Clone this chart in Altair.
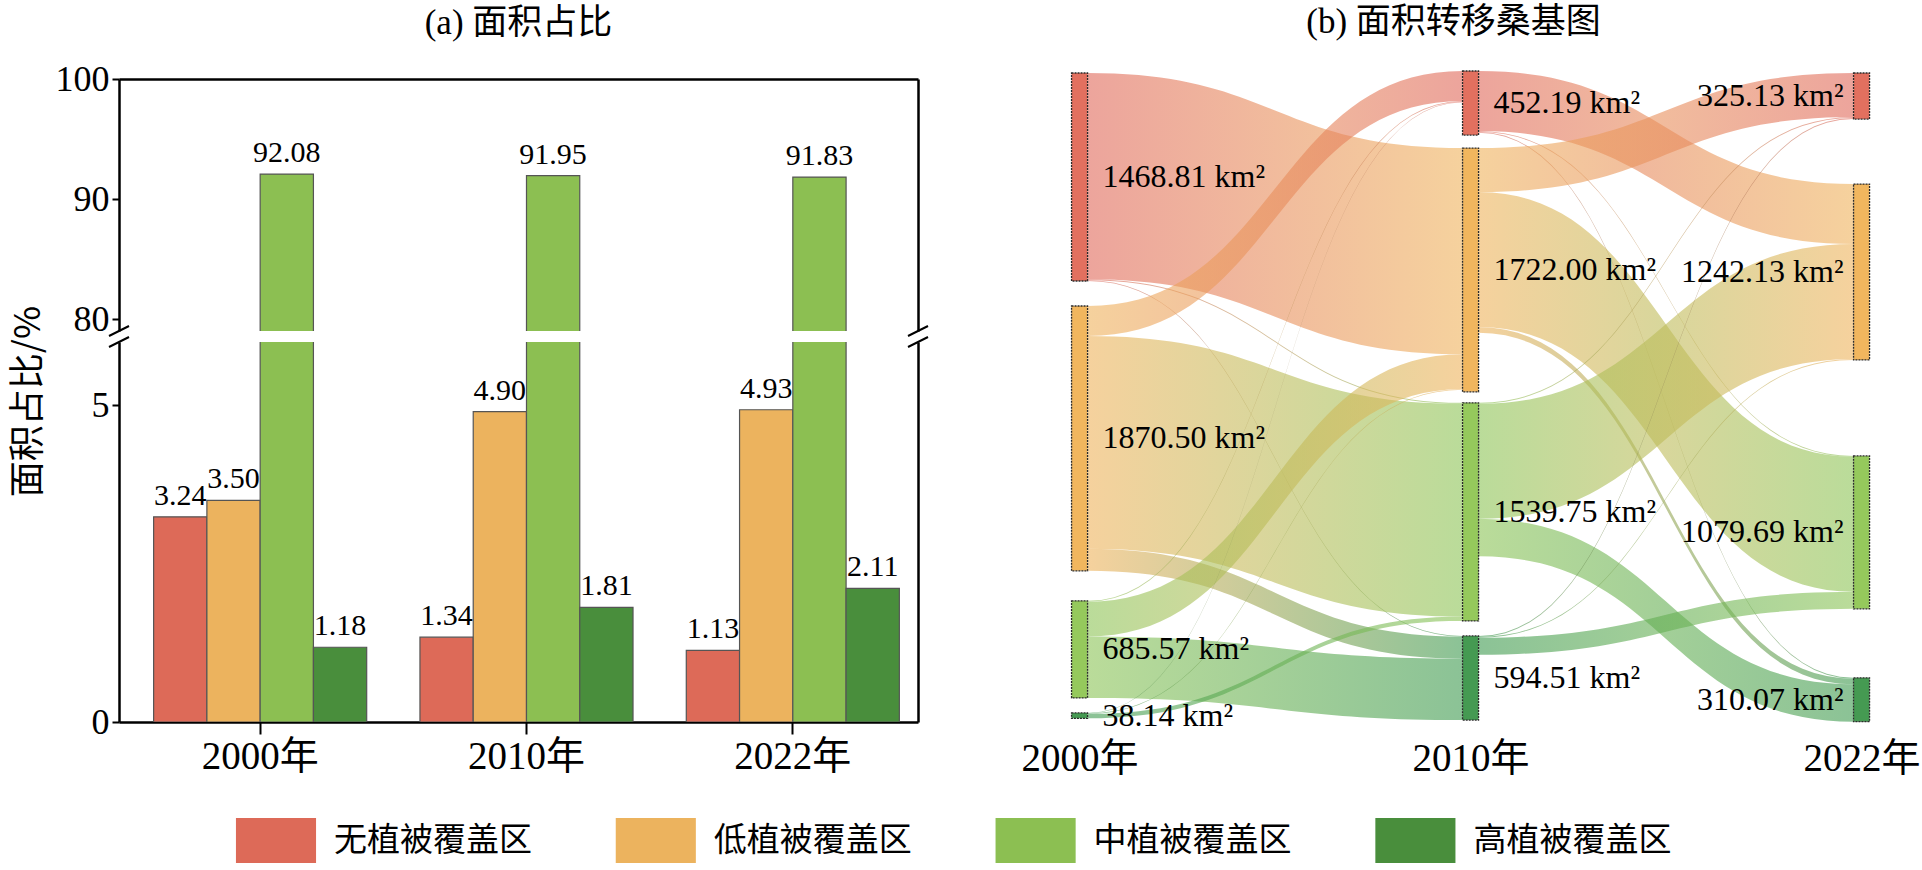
import altair as alt
import numpy as np
import pandas as pd

# ---------------- data ----------------
years = ["2000年", "2010年", "2022年"]
classes = ["无植被覆盖区", "低植被覆盖区", "中植被覆盖区", "高植被覆盖区"]

share_2000 = [3.24, 3.50, 92.08, 1.18]
share_2010 = [1.34, 4.90, 91.95, 1.81]
share_2022 = [1.13, 4.93, 91.83, 2.11]

area_2000 = [1468.81, 1870.50, 685.57, 38.14]
area_2010 = [452.19, 1722.00, 1539.75, 594.51]
area_2022 = [325.13, 1242.13, 1079.69, 310.07]

# transfer flows (km2): rows = source class, columns = target class
flow_2000_2010 = [
    [0.00, 1456.81, 7.00, 5.00],
    [212.00, 0.00, 1502.61, 155.89],
    [6.00, 245.95, 0.00, 433.62],
    [3.50, 4.50, 30.14, 0.00],
]
flow_2010_2022 = [
    [0.00, 424.00, 6.00, 6.00],
    [311.13, 0.00, 953.69, 40.00],
    [7.00, 812.13, 0.00, 264.07],
    [7.00, 6.00, 120.00, 0.00],
]

# ---------------- style ----------------
bar_colors = ["#DD6A58", "#ECB35E", "#8CBF52", "#498E3C"]
node_fills = ["#E2705F", "#F1B65E", "#95C95C", "#459A52"]
link_colors = ["#E0685A", "#EFB35C", "#8CC456", "#3E9A50"]
SERIF = "Liberation Serif, Times New Roman, Noto Sans CJK SC"
SANS_CJK = "Noto Sans CJK SC"

# ---------------- layout ----------------
W_BAR, H_UP, H_LOW, GAP = 799, 252, 380, 11
UP_DOMAIN, LOW_DOMAIN = [79, 100], [0, 6]
PX_PER_KM2 = 0.1416
COL_STEP = 391
X_PAD = 0.05
W_SANKEY = (2 + 2 * X_PAD) * COL_STEP
H_SANKEY = H_UP + GAP + H_LOW
NODE_HALF = 8 / COL_STEP
node_gaps_px = [[-6, 25, 30, 15], [-8, 13, 11, 15], [-6, 65, 96, 69]]
N_SAMPLES = 40

# ---------------- bar chart ----------------
bar_df = pd.DataFrame({
    "year": np.repeat(years, 4),
    "cls": classes * 3,
    "value": share_2000 + share_2010 + share_2022,
})
bar_df["label"] = bar_df["value"].map(lambda v: f"{v:.2f}")

x_scale = alt.Scale(paddingInner=0.2, paddingOuter=0.1, align=0.65)
xoff = alt.XOffset("cls:N", sort=classes, scale=alt.Scale(paddingInner=0, paddingOuter=0))
legend = alt.Legend(
    orient="none", legendX=134.5, legendY=739, direction="horizontal", columns=4,
    title=None, symbolType="M-1.78,-1H1.78V1H-1.78Z", symbolSize=2025,
    symbolStrokeWidth=0, symbolOpacity=1, labelFont=SANS_CJK, labelFontSize=33,
    labelColor="black", labelOffset=35.5, columnPadding=82.8, labelLimit=400,
    padding=0, offset=0,
)
color = alt.Color("cls:N", sort=classes, scale=alt.Scale(domain=classes, range=bar_colors), legend=legend)

frame = dict(domain=True, domainColor="black", domainWidth=2.5, ticks=False, labels=False,
             title=None, grid=False)
x_top_axis = alt.Axis(orient="top", **frame)
x_bottom_axis = alt.Axis(orient="bottom", domain=True, domainColor="black", domainWidth=2.5,
                         ticks=True, tickColor="black", tickWidth=2, tickSize=12,
                         labelFont=SERIF, labelFontSize=39, labelColor="black", labelAngle=0,
                         labelPadding=3, title=None, grid=False)
y_tick_style = dict(domain=True, domainColor="black", domainWidth=2.5, ticks=True, tickColor="black",
                    tickWidth=2, tickSize=7, labelFont=SERIF, labelFontSize=36, labelColor="black",
                    labelPadding=3, grid=False)

up_y = alt.Scale(domain=UP_DOMAIN, nice=False, zero=False)
low_y = alt.Scale(domain=LOW_DOMAIN, nice=False, zero=False)

def break_marks(h_edge):
    d = pd.DataFrame({"k": [0]})
    out = []
    for xc in (0, W_BAR):
        out.append(alt.Chart(d).mark_rule(color="black", strokeWidth=2).encode(
            x=alt.value(xc - 10), x2=alt.value(xc + 10),
            y=alt.value(h_edge + 5), y2=alt.value(h_edge - 5)))
    return out

upper = alt.layer(
    alt.Chart(bar_df).mark_bar(clip=True, stroke="#555555", strokeWidth=1.2).encode(
        x=alt.X("year:N", sort=years, scale=x_scale, axis=x_top_axis),
        xOffset=xoff,
        y=alt.Y("value:Q", scale=up_y, axis=alt.Axis(orient="left", values=[80, 90, 100], title=None, **y_tick_style)),
        color=color,
    ),
    alt.Chart(bar_df).transform_filter("datum.value > 50").mark_text(
        baseline="bottom", dy=-6, font=SERIF, fontSize=30, color="black").encode(
        x=alt.X("year:N", sort=years, scale=x_scale, axis=x_top_axis),
        xOffset=xoff,
        y=alt.Y("value:Q", scale=up_y, axis=alt.Axis(orient="right", **frame)),
        text="label:N",
    ),
    *break_marks(H_UP),
).resolve_axis(y="independent").properties(
    width=W_BAR, height=H_UP,
    title=alt.TitleParams("(a) 面积占比", font=SERIF, fontSize=35, fontWeight="normal",
                          color="black", anchor="middle", frame="group", offset=20),
)

lower = alt.layer(
    alt.Chart(bar_df).mark_bar(clip=True, stroke="#555555", strokeWidth=1.2).encode(
        x=alt.X("year:N", sort=years, scale=x_scale, axis=x_bottom_axis),
        xOffset=xoff,
        y=alt.Y("value:Q", scale=low_y, axis=alt.Axis(
            orient="left", values=[0, 5], title="面积占比/%", titleFont=SANS_CJK, titleFontSize=36,
            titleFontWeight="normal", titleColor="black", titleAngle=-90, titleX=-91, titleY=59,
            titleAlign="center", titleBaseline="middle", **y_tick_style)),
        color=color,
    ),
    alt.Chart(bar_df).transform_filter("datum.value < 50").mark_text(
        baseline="bottom", dy=-6, font=SERIF, fontSize=30, color="black").encode(
        x=alt.X("year:N", sort=years, scale=x_scale, axis=x_bottom_axis),
        xOffset=xoff,
        y=alt.Y("value:Q", scale=low_y, axis=alt.Axis(orient="right", **frame)),
        text="label:N",
    ),
    *break_marks(0),
).resolve_axis(y="independent").properties(width=W_BAR, height=H_LOW)

left = alt.vconcat(upper, lower, spacing=GAP, bounds="flush")

# ---------------- sankey ----------------
areas = [area_2000, area_2010, area_2022]
tops = []
for c in range(3):
    pos, col_tops = 0.0, []
    for a, g in zip(areas[c], node_gaps_px[c]):
        pos += g / PX_PER_KM2
        col_tops.append(pos)
        pos += a
    tops.append(col_tops)

node_rows = []
for c in range(3):
    for i in range(4):
        node_rows.append(dict(
            col=c, xl=c - NODE_HALF, xr=c + NODE_HALF, top=tops[c][i], bot=tops[c][i] + areas[c][i],
            mid=tops[c][i] + areas[c][i] / 2, fill=node_fills[i], label=f"{areas[c][i]:.2f} km²"))
nodes_df = pd.DataFrame(node_rows)

link_rows, link_meta = [], []
for c, flows in enumerate([flow_2000_2010, flow_2010_2022]):
    src_start, tgt_start = {}, {}
    for i in range(4):
        acc = tops[c][i]
        for j in range(4):
            if flows[i][j] > 0:
                src_start[(i, j)] = acc
                acc += flows[i][j]
    for j in range(4):
        acc = tops[c + 1][j]
        for i in range(4):
            if flows[i][j] > 0:
                tgt_start[(i, j)] = acc
                acc += flows[i][j]
    x0, x1 = c + NODE_HALF, c + 1 - NODE_HALF
    for (i, j), y0 in src_start.items():
        y1, f = tgt_start[(i, j)], flows[i][j]
        lid = len(link_meta)
        link_meta.append((lid, i, j))
        for k in range(N_SAMPLES + 1):
            t = k / N_SAMPLES
            sxp = 1.5 * t * (1 - t) + t ** 3
            syp = 3 * t * t - 2 * t ** 3
            yy = y0 + (y1 - y0) * syp
            link_rows.append(dict(link=lid, x=x0 + (x1 - x0) * sxp, top=yy, bot=yy + f))
links_df = pd.DataFrame(link_rows)

sx = alt.Scale(domain=[-X_PAD, 2 + X_PAD], nice=False, zero=False)
sy = alt.Scale(domain=[0, H_SANKEY / PX_PER_KM2], nice=False, zero=False, reverse=True)
label_expr = "[" + ",".join(f"'{y}'" for y in years) + "][datum.value]"
year_axis = alt.Axis(values=[0, 1, 2], labelExpr=label_expr, domain=False, ticks=False, grid=False,
                     labelFont=SERIF, labelFontSize=39, labelColor="black", labelPadding=17,
                     labelFlush=False, labelOverlap=False, labelAngle=0, title=None)

layers = []
for lid, i, j in link_meta:
    grad = alt.Gradient(gradient="linear",
                        stops=[alt.GradientStop(color=link_colors[i], offset=0),
                               alt.GradientStop(color=link_colors[j], offset=1)],
                        x1=0, x2=1, y1=0, y2=0)
    layers.append(
        alt.Chart(links_df).transform_filter(alt.datum.link == lid)
        .mark_area(color=grad, fillOpacity=0.6, strokeWidth=0)
        .encode(x=alt.X("x:Q", scale=sx, axis=year_axis),
                y=alt.Y("top:Q", scale=sy, axis=None), y2="bot:Q"))

layers.append(alt.Chart(nodes_df).mark_rect(stroke="#2b2b2b", strokeWidth=1.3, strokeDash=[2, 1]).encode(
    x=alt.X("xl:Q", scale=sx, axis=year_axis), x2="xr:Q",
    y=alt.Y("top:Q", scale=sy, axis=None), y2="bot:Q",
    fill=alt.Fill("fill:N", scale=None)))
layers.append(alt.Chart(nodes_df).transform_filter("datum.col < 2").mark_text(
    align="left", baseline="middle", dx=15, font=SERIF, fontSize=32, color="black").encode(
    x=alt.X("xr:Q", scale=sx, axis=year_axis), y=alt.Y("mid:Q", scale=sy, axis=None), text="label:N"))
layers.append(alt.Chart(nodes_df).transform_filter("datum.col == 2").mark_text(
    align="right", baseline="middle", dx=-10, font=SERIF, fontSize=32, color="black").encode(
    x=alt.X("xl:Q", scale=sx, axis=year_axis), y=alt.Y("mid:Q", scale=sy, axis=None), text="label:N"))

sankey = alt.layer(*layers).properties(
    width=W_SANKEY, height=H_SANKEY,
    title=alt.TitleParams("(b) 面积转移桑基图", font=SERIF, fontSize=35, fontWeight="normal",
                          color="black", anchor="middle", frame="group", offset=30, dx=-17),
)

chart = alt.hconcat(left, sankey, spacing=92, bounds="full").properties(
    padding={"left": 9, "top": 5, "right": 0, "bottom": 0}
).configure_view(stroke=None).configure_axis(grid=False)

chart.save("out.html", embed_options={"renderer": "svg", "actions": False})
